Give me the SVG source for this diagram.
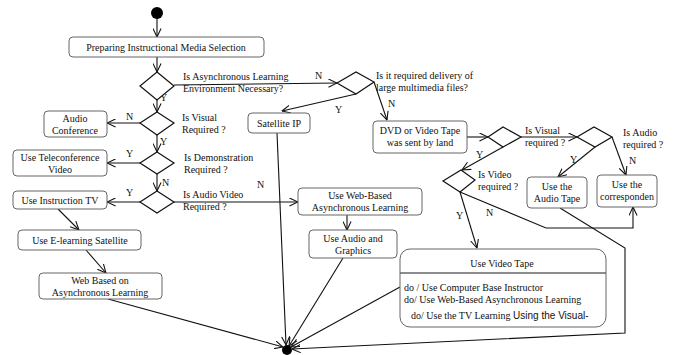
<svg xmlns="http://www.w3.org/2000/svg" width="674" height="355" viewBox="0 0 674 355">
<defs>
<marker id="arr" viewBox="0 0 10 10" refX="9.5" refY="5" markerWidth="9" markerHeight="9" markerUnits="userSpaceOnUse" orient="auto">
<path d="M0,0.5 L9.5,5 L0,9.5" fill="none" stroke="#111" stroke-width="1.2"/>
</marker>
<style>
text{font-family:"Liberation Serif","Times New Roman",serif;font-size:10px;fill:#111}
.c{text-anchor:middle}
.box{fill:#fff;stroke:#666;stroke-width:1}
.dia{fill:#fff;stroke:#111;stroke-width:1.2}
.ln{fill:none;stroke:#111;stroke-width:1.1}
.ar{fill:none;stroke:#111;stroke-width:1.1;marker-end:url(#arr)}
.sans{font-family:"Liberation Sans",Arial,sans-serif}
</style>
</defs>
<rect width="674" height="355" fill="#fff"/>

<g id="connectors">
<line class="ar" x1="157" y1="18" x2="157" y2="37"/>
<line class="ar" x1="157" y1="57" x2="157" y2="72"/>
<line class="ar" x1="174" y1="85" x2="337" y2="83"/>
<line class="ar" x1="356" y1="94" x2="282" y2="111"/>
<line class="ar" x1="374" y1="82" x2="387" y2="120"/>
<line class="ar" x1="277" y1="133" x2="286" y2="345"/>
<line class="ar" x1="467" y1="137" x2="488" y2="137"/>
<line class="ar" x1="521" y1="137" x2="577" y2="137"/>
<line class="ar" x1="595" y1="147" x2="558" y2="177"/>
<line class="ar" x1="612" y1="137" x2="626" y2="175"/>
<line class="ar" x1="503" y1="147" x2="462" y2="170"/>
<line class="ar" x1="460" y1="192" x2="477" y2="248"/>
<polyline class="ar" points="460,192 546,228 633,228 633,207"/>
<polyline class="ar" points="560,208 625,248 625,333 292,349"/>
<line class="ar" x1="400" y1="287" x2="291" y2="347"/>
<line class="ar" x1="343" y1="258" x2="289" y2="346"/>
<line class="ar" x1="108" y1="299" x2="283" y2="347"/>
<line class="ar" x1="157" y1="100" x2="157" y2="112"/>
<line class="ar" x1="140" y1="123" x2="107" y2="123"/>
<line class="ar" x1="157" y1="135" x2="157" y2="152"/>
<line class="ar" x1="140" y1="163" x2="107" y2="163"/>
<line class="ar" x1="157" y1="174" x2="157" y2="191"/>
<line class="ar" x1="140" y1="202" x2="107" y2="202"/>
<line class="ar" x1="174" y1="202" x2="298" y2="202"/>
<line class="ar" x1="347" y1="215" x2="347" y2="230"/>
<line class="ar" x1="58" y1="209" x2="79" y2="230"/>
<line class="ar" x1="86" y1="250" x2="106" y2="273"/>
</g>

<g id="labels">
<text x="183" y="80">Is Asynchronous Learning</text>
<text x="183" y="92">Environment Necessary?</text>
<text x="315" y="79">N</text>
<text x="376" y="79">Is it required delivery of</text>
<text x="376" y="91">large multimedia files?</text>
<text x="335" y="113">Y</text>
<text x="388" y="107">N</text>
<text x="525" y="134">Is Visual</text>
<text x="525" y="146">required ?</text>
<text x="623" y="136">Is Audio</text>
<text x="623" y="148">required ?</text>
<text x="570" y="163">Y</text>
<text x="629" y="164">N</text>
<text x="476" y="158">Y</text>
<text x="478" y="178">Is Video</text>
<text x="478" y="190">required ?</text>
<text x="456" y="219">Y</text>
<text x="486" y="216">N</text>
<text x="160" y="101">Y</text>
<text x="182" y="121">Is Visual</text>
<text x="182" y="133">Required ?</text>
<text x="126" y="120">N</text>
<text x="160" y="145">Y</text>
<text x="184" y="161">Is Demonstration</text>
<text x="184" y="173">Required ?</text>
<text x="126" y="157">Y</text>
<text x="162" y="186">N</text>
<text x="183" y="198">Is Audio Video</text>
<text x="183" y="210">Required ?</text>
<text x="126" y="196">Y</text>
<text x="257" y="188">N</text>
</g>

<g id="start"><circle cx="157" cy="13" r="6" fill="#000"/></g>
<g id="end"><circle cx="287" cy="350" r="5" fill="#000"/></g>

<g id="prep"><rect class="box" x="69" y="37" width="195" height="20" rx="4"/><text class="c" x="166" y="51">Preparing Instructional Media Selection</text></g>
<g id="d1"><polygon class="dia" points="157,72 174,86 157,100 140,86"/></g>
<g id="d2"><polygon class="dia" points="337,83 356,72 374,82 356,94"/></g>
<g id="satellite"><rect class="box" x="248" y="113" width="62" height="20" rx="4"/><text class="c" x="279" y="127">Satellite IP</text></g>
<g id="dvd"><rect class="box" x="373" y="121" width="94" height="32" rx="4"/><text class="c" x="420" y="134">DVD or Video Tape</text><text class="c" x="420" y="146">was sent by land</text></g>
<g id="d3"><polygon class="dia" points="488,137 503,127 521,137 503,147"/></g>
<g id="d4"><polygon class="dia" points="577,137 594,127 612,137 595,147"/></g>
<g id="d5"><polygon class="dia" points="443,181 461,170 475,180 460,192"/></g>
<g id="audiotape"><rect class="box" x="527" y="177" width="60" height="31" rx="4"/><text class="c" x="557" y="190">Use the</text><text class="c" x="557" y="202">Audio Tape</text></g>
<g id="corr"><rect class="box" x="597" y="175" width="60" height="32" rx="4"/><text class="c" x="627" y="188">Use the</text><text class="c" x="627" y="200">corresponden</text></g>
<g id="videotape"><rect class="box" x="400" y="249" width="206" height="78" rx="10"/><line x1="400" y1="273" x2="606" y2="273" stroke="#666" stroke-width="1.5"/><text class="c" x="502" y="267">Use Video Tape</text><text x="404" y="291">do / Use Computer Base Instructor</text><text x="404" y="303">do/ Use Web-Based Asynchronous Learning</text><text x="411" y="319">do/ Use the TV Learning <tspan class="sans">Using the Visual-</tspan></text></g>
<g id="d6"><polygon class="dia" points="157,112 174,123 157,135 140,123"/></g>
<g id="audioconf"><rect class="box" x="44" y="111" width="63" height="26" rx="4"/><text class="c" x="75" y="122">Audio</text><text class="c" x="75" y="134">Conference</text></g>
<g id="d7"><polygon class="dia" points="157,152 174,163 157,174 140,163"/></g>
<g id="telecon"><rect class="box" x="13" y="150" width="94" height="26" rx="4"/><text class="c" x="60" y="161">Use Teleconference</text><text class="c" x="60" y="173">Video</text></g>
<g id="d8"><polygon class="dia" points="157,191 174,202 157,213 140,202"/></g>
<g id="instrtv"><rect class="box" x="13" y="191" width="94" height="18" rx="4"/><text class="c" x="60" y="204">Use Instruction TV</text></g>
<g id="webasync"><rect class="box" x="298" y="188" width="124" height="27" rx="4"/><text class="c" x="360" y="199">Use Web-Based</text><text class="c" x="360" y="211">Asynchronous Learning</text></g>
<g id="audiographics"><rect class="box" x="309" y="230" width="88" height="28" rx="4"/><text class="c" x="353" y="242">Use Audio and</text><text class="c" x="353" y="254">Graphics</text></g>
<g id="elearning"><rect class="box" x="18" y="230" width="123" height="20" rx="4"/><text class="c" x="80" y="244">Use E-learning Satellite</text></g>
<g id="webbased"><rect class="box" x="39" y="273" width="123" height="26" rx="4"/><text class="c" x="100" y="284">Web Based on</text><text class="c" x="100" y="296">Asynchronous Learning</text></g>
</svg>
